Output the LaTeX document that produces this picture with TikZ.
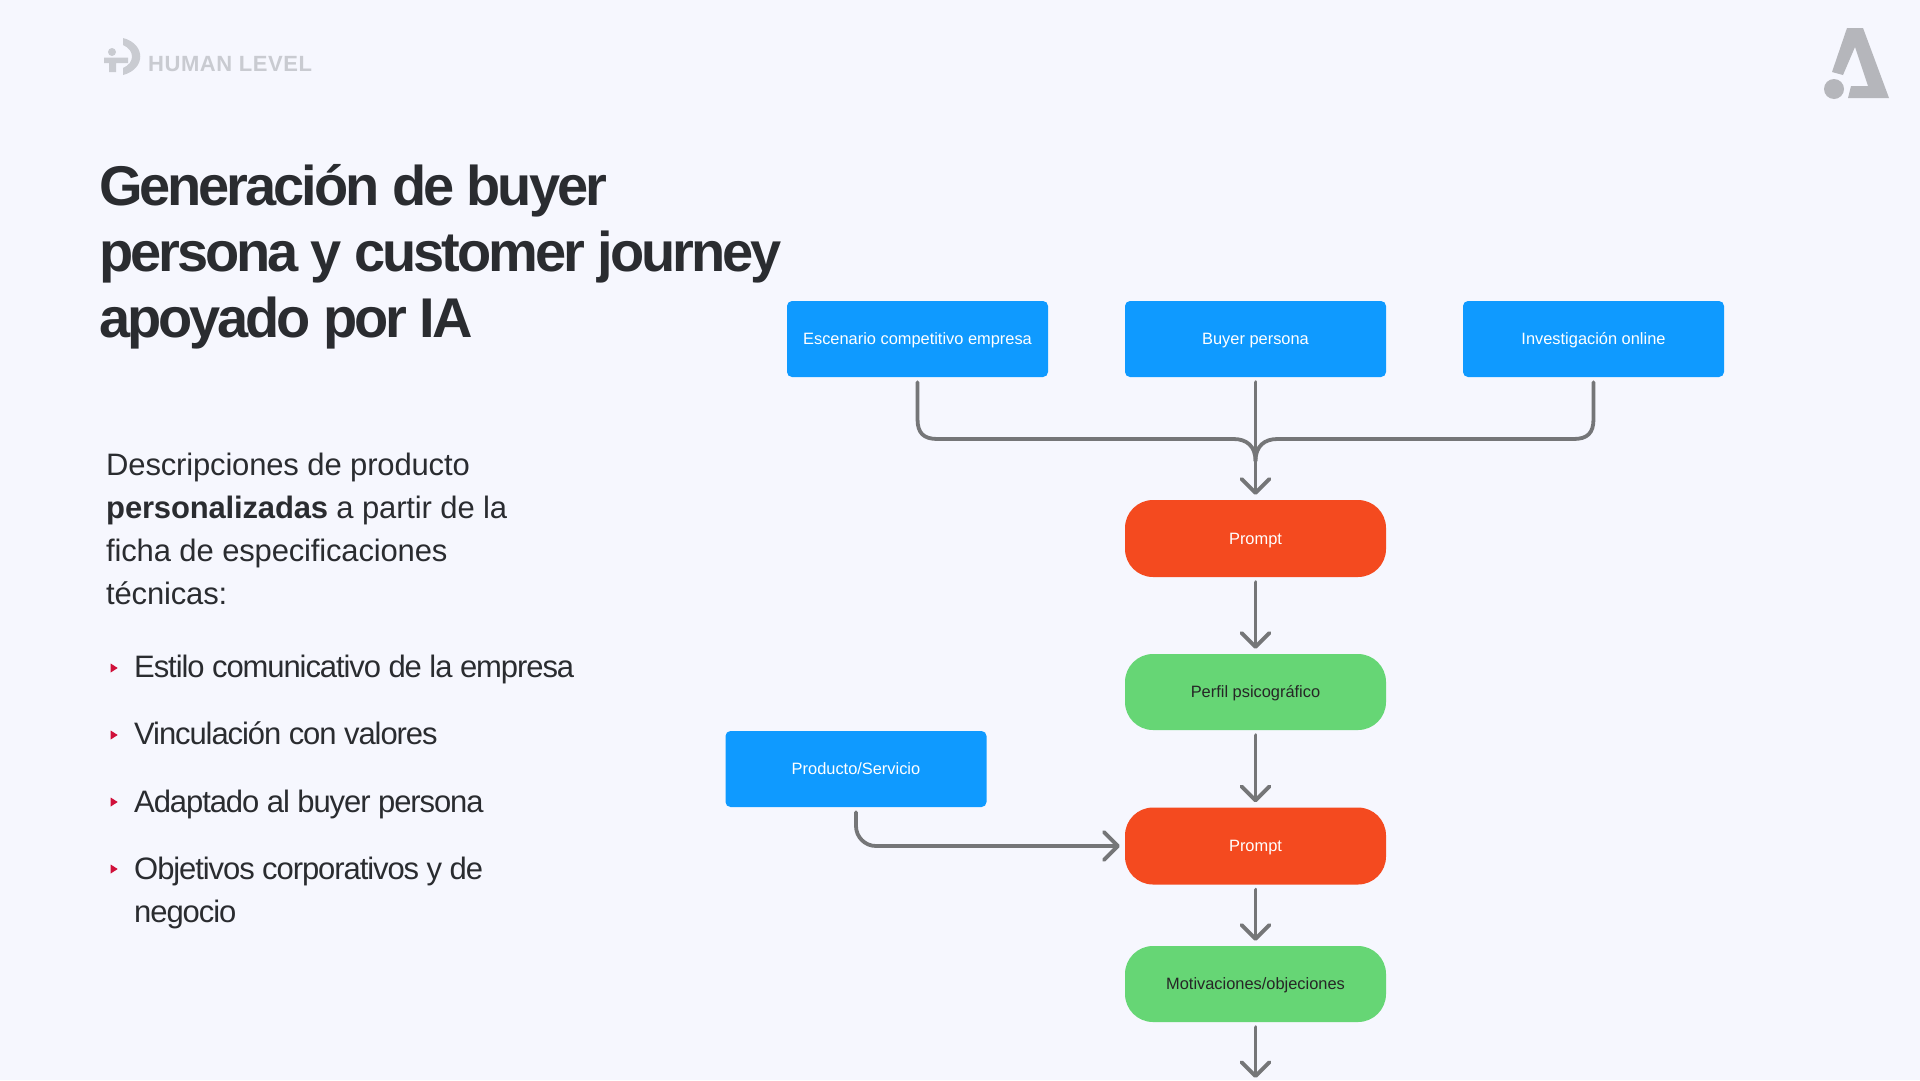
\documentclass[tikz,border=0pt]{standalone}
\usepackage{fontspec}
\usepackage{xcolor}
\usepackage{tikz}
\usetikzlibrary{arrows.meta, positioning, calc}
\setmainfont{Liberation Sans}
\definecolor{pagebg}{RGB}{246, 247, 254}
\definecolor{inkdark}{RGB}{42, 44, 48}
\definecolor{boxblue}{RGB}{15, 154, 255}
\definecolor{boxred}{RGB}{244, 74, 31}
\definecolor{boxgreen}{RGB}{102, 214, 117}
\definecolor{linegray}{RGB}{117, 118, 120}
\definecolor{logogray}{RGB}{201, 203, 209}
\definecolor{markgray}{RGB}{181, 182, 187}
\definecolor{bulletred}{RGB}{208, 16, 58}
\tikzset{
    boxlabel/.style={minimum width=261pt, minimum height=76pt, inner sep=0pt, text height=13pt, text depth=1.5pt, font=\fontsize{16.4}{19}\selectfont},
    inputbox/.style={boxlabel, fill=boxblue, text=white, rounded corners=5pt},
    promptbox/.style={boxlabel, fill=boxred, text=white, rounded corners=28pt, minimum height=77pt},
    resultbox/.style={boxlabel, fill=boxgreen, text=black!85, rounded corners=28pt},
    link/.style={draw=linegray, line width=3.8pt, line cap=round},
    flow/.style={link, -{Straight Barb[length=14pt, width=28pt, round]}, shorten <=5pt, shorten >=5pt},
    bodytext/.style={anchor=base west, inner sep=0pt, text=inkdark, font=\fontsize{31}{43}\selectfont\addfontfeatures{LetterSpace=-0.5}},
    itemtext/.style={bodytext, font=\fontsize{31}{43}\selectfont\addfontfeatures{LetterSpace=-3.5}}
}
\begin{document}
\begin{tikzpicture}[x=1pt, y=-1pt]
    \fill[pagebg] (0,0) rectangle (1920,1080);
    \useasboundingbox (0,0) rectangle (1920,1080);

    % Human Level logo
    \fill[logogray] (112,52) circle (4);
    \fill[logogray] (104,57.5) -- (128,57.5) -- (128,63) -- (116,63) -- (116,72) -- (109,72) -- (109,63) -- (104,63) -- cycle;
    \fill[logogray] (123,38) .. controls (146,44) and (146,69) .. (123,75) -- (123,68) .. controls (135,63) and (135,50) .. (123,45) -- cycle;
    \node[anchor=base west, inner sep=0pt, text=logogray, font=\fontsize{22}{24}\selectfont\bfseries\addfontfeatures{LetterSpace=2.5}] (humanlevel) at (148,71) {HUMAN LEVEL};

    % Corner mark
    \fill[markgray] (1847,28) -- (1863,28) -- (1889,98) -- (1848,98) -- (1851,86) -- (1868,86) -- (1855,47) -- (1843,75) -- (1832,72) -- cycle;
    \fill[markgray] (1834,89) circle (10);

    % Title
    \node[anchor=base west, inner sep=0pt, align=left, text=inkdark, font=\fontsize{56}{66}\selectfont\bfseries\addfontfeatures{LetterSpace=-5.5}] (title) at (99,337) {Generación de buyer\\persona y customer journey\\apoyado por IA};

    % Body text
    \node[bodytext, align=left] (intro) at (106,604.5) {Descripciones de producto\\\textbf{personalizadas} a partir de la\\ficha de especificaciones\\técnicas:};
    \node[itemtext] (itema) at (134,677) {Estilo comunicativo de la empresa};
    \node[itemtext] (itemb) at (134,744.5) {Vinculación con valores};
    \node[itemtext] (itemc) at (134,812) {Adaptado al buyer persona};
    \node[itemtext, align=left] (itemd) at (134,922) {Objetivos corporativos y de\\negocio};
    \foreach \y in {668,735,802,869}
        \fill[bulletred] (110.7,\y-4.5) -- (117.7,\y) -- (110.7,\y+4.5) -- cycle;

    % Input boxes
    \node[inputbox] (escenario) at (917.5,339) {Escenario competitivo empresa};
    \node[inputbox] (buyer) at (1255.5,339) {Buyer persona};
    \node[inputbox] (investigacion) at (1593.5,339) {Investigación online};
    \node[inputbox] (producto) at (856,769) {Producto/Servicio};

    % Main column
    \node[promptbox] (prompta) at (1255.5,538.5) {Prompt};
    \node[resultbox] (perfil) at (1255.5,692) {Perfil psicográfico};
    \node[promptbox] (promptb) at (1255.5,846) {Prompt};
    \node[resultbox] (motivaciones) at (1255.5,984) {Motivaciones/objeciones};
    \coordinate (merge) at (1255.5,439);
    \coordinate (cornerl) at (escenario.south |- merge);
    \coordinate (cornerr) at (investigacion.south |- merge);
    \coordinate (bottomend) at (1255.5,1083);

    % Merging branches
    \draw[link, shorten <=5pt] (escenario.south) -- ($(cornerl)+(0,-20)$)
        .. controls ($(cornerl)+(0,-6)$) and ($(cornerl)+(6,0)$) .. ($(cornerl)+(20,0)$)
        -- ($(merge)+(-22,0)$)
        .. controls ($(merge)+(-9,0)$) and ($(merge)+(0,7)$) .. ($(merge)+(0,22)$);
    \draw[link, shorten <=5pt] (investigacion.south) -- ($(cornerr)+(0,-20)$)
        .. controls ($(cornerr)+(0,-6)$) and ($(cornerr)+(-6,0)$) .. ($(cornerr)+(-20,0)$)
        -- ($(merge)+(22,0)$)
        .. controls ($(merge)+(9,0)$) and ($(merge)+(0,7)$) .. ($(merge)+(0,22)$);

    % Arrows
    \draw[flow] (buyer) -- (prompta);
    \draw[flow] (prompta) -- (perfil);
    \draw[flow] (perfil) -- (promptb);
    \draw[flow] (promptb) -- (motivaciones);
    \draw[flow] (motivaciones) -- (bottomend);
    \draw[flow, rounded corners=20pt] (producto.south) |- (promptb.west);
\end{tikzpicture}
\end{document}
